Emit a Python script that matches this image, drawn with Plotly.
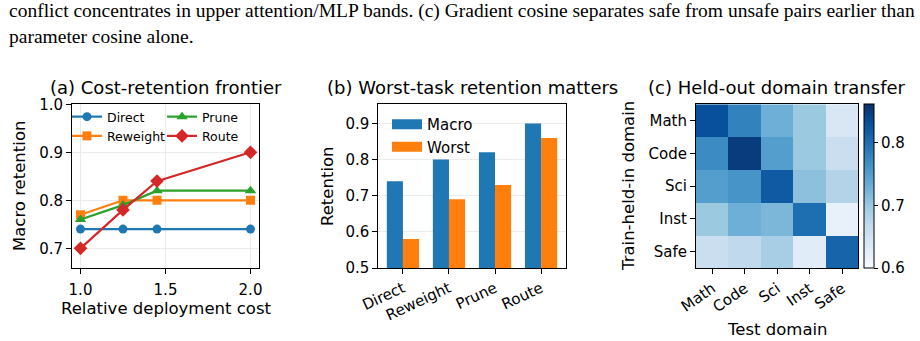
import plotly.graph_objects as go

W, H = 920, 341

# ---------------- data ----------------
cost = [1.0, 1.25, 1.45, 2.0]
direct = [0.74, 0.74, 0.74, 0.74]
reweight = [0.77, 0.80, 0.80, 0.80]
prune = [0.76, 0.79, 0.82, 0.82]
route = [0.70, 0.78, 0.84, 0.90]

methods = ["Direct", "Reweight", "Prune", "Route"]
macro = [0.74, 0.80, 0.82, 0.90]
worst = [0.58, 0.69, 0.73, 0.86]

domains = ["Math", "Code", "Sci", "Inst", "Safe"]
transfer = [
    [0.83, 0.78, 0.73, 0.70, 0.64],
    [0.77, 0.85, 0.75, 0.70, 0.66],
    [0.75, 0.76, 0.82, 0.71, 0.68],
    [0.70, 0.73, 0.72, 0.80, 0.62],
    [0.66, 0.67, 0.69, 0.63, 0.81],
]

caption1 = ("conflict concentrates in upper attention/MLP bands. (c) Gradient cosine "
            "separates safe from unsafe pairs earlier than")
caption2 = "parameter cosine alone."

# ---------------- style ----------------
BLUE, ORANGE, GREEN, RED = "#1f77b4", "#ff7f0e", "#2ca02c", "#d62728"
FONT = "DejaVu Sans"
TICK, LAB, TIT = 15, 16.5, 18
blues = [[0.0, "#f7fbff"], [0.125, "#deebf7"], [0.25, "#c6dbef"], [0.375, "#9ecae1"],
         [0.5, "#6baed6"], [0.625, "#4292c6"], [0.75, "#2171b5"], [0.875, "#08519c"],
         [1.0, "#08306b"]]


def px(x):
    return x / W


def py(y):
    return 1 - y / H


fig = go.Figure()

# (a) frontier lines
series = [("Direct", direct, BLUE, "circle", 9, "legend"),
          ("Reweight", reweight, ORANGE, "square", 9, "legend"),
          ("Prune", prune, GREEN, "triangle-up", 10, "legend2"),
          ("Route", route, RED, "diamond", 10.5, "legend2")]
for name, ys, col, sym, ms, lg in series:
    fig.add_trace(go.Scatter(x=cost, y=ys, name=name, mode="lines+markers",
                             line=dict(color=col, width=2.2),
                             marker=dict(color=col, symbol=sym, size=ms),
                             xaxis="x", yaxis="y", legend=lg))

# (b) grouped bars
fig.add_trace(go.Bar(x=methods, y=macro, name="Macro", marker=dict(color=BLUE, line=dict(width=0)),
                     xaxis="x2", yaxis="y2", showlegend=False))
fig.add_trace(go.Bar(x=methods, y=worst, name="Worst", marker=dict(color=ORANGE, line=dict(width=0)),
                     xaxis="x2", yaxis="y2", showlegend=False))
# legend patches for bars
for name, col in [("Macro", BLUE), ("Worst", ORANGE)]:
    fig.add_trace(go.Scatter(x=[None], y=[None], name=name, mode="lines",
                             line=dict(color=col, width=10),
                             xaxis="x2", yaxis="y2", legend="legend3"))

# (c) heatmap
fig.add_trace(go.Heatmap(z=transfer, x=domains, y=domains, colorscale=blues,
                         zmin=0.6, zmax=0.862, xaxis="x3", yaxis="y3",
                         colorbar=dict(x=px(863.5), xanchor="left", xpad=0, ypad=0,
                                       y=py(268), yanchor="bottom", len=(268 - 104.3) / H,
                                       lenmode="fraction", thickness=10,
                                       outlinewidth=1, outlinecolor="black",
                                       ticks="outside", ticklen=4, tickwidth=1, tickcolor="black",
                                       tickvals=[0.6, 0.7, 0.8], tickformat=".1f",
                                       tickfont=dict(size=TICK, color="black", family=FONT))))

axis_common = dict(showline=True, mirror=True, linecolor="black", linewidth=1,
                   ticks="outside", ticklen=5, tickwidth=1, tickcolor="black",
                   tickfont=dict(size=TICK, color="black", family=FONT), zeroline=False,
                   automargin=False)

ya_dom = [py(268), py(104.3)]
fig.update_layout(
    width=W, height=H, margin=dict(l=0, r=0, t=0, b=0, autoexpand=False),
    paper_bgcolor="white", plot_bgcolor="white",
    font=dict(family=FONT, color="black"),
    barmode="group", bargap=0.3, bargroupgap=0,
    xaxis=dict(domain=[px(72), px(259)], range=[0.95, 2.05], tickvals=[1.0, 1.5, 2.0],
               tickformat=".1f", showgrid=True, gridcolor="#ebebeb", gridwidth=1,
               anchor="y", ticklabelstandoff=3, **axis_common),
    yaxis=dict(domain=ya_dom, range=[0.659, 1.0], tickvals=[0.7, 0.8, 0.9, 1.0],
               tickformat=".1f", showgrid=True, gridcolor="#ebebeb", gridwidth=1,
               anchor="x", **axis_common),
    xaxis2=dict(domain=[px(378.3), px(565.7)], type="category", range=[-0.535, 3.535],
                tickangle=-25, showgrid=False, anchor="y2", **axis_common),
    yaxis2=dict(domain=ya_dom, range=[0.5, 0.953], tickvals=[0.5, 0.6, 0.7, 0.8, 0.9],
                tickformat=".1f", showgrid=True, gridcolor="#ebebeb", gridwidth=1,
                anchor="x2", **axis_common),
    xaxis3=dict(domain=[px(696), px(858.3)], type="category", range=[-0.5, 4.5],
                tickangle=-35, showgrid=False, anchor="y3", **axis_common),
    yaxis3=dict(domain=ya_dom, type="category", range=[4.5, -0.5],
                showgrid=False, anchor="x3", **axis_common),
    legend=dict(x=px(67), y=py(102), xanchor="left", yanchor="top",
                bgcolor="rgba(0,0,0,0)", borderwidth=0, tracegroupgap=0,
                font=dict(size=12.5, family=FONT, color="black"), itemwidth=30),
    legend2=dict(x=px(162), y=py(102), xanchor="left", yanchor="top",
                 bgcolor="rgba(0,0,0,0)", borderwidth=0, tracegroupgap=0,
                 font=dict(size=12.5, family=FONT, color="black"), itemwidth=30),
    legend3=dict(x=px(387), y=py(108), xanchor="left", yanchor="top",
                 bgcolor="rgba(0,0,0,0)", borderwidth=0, tracegroupgap=0,
                 font=dict(size=TICK, family=FONT, color="black"), itemwidth=30),
)


def note(text, x, y, size, angle=0, xanchor="center", family=FONT):
    fig.add_annotation(text=text, x=px(x), y=py(y), xref="paper", yref="paper",
                       showarrow=False, xanchor=xanchor, yanchor="middle",
                       textangle=angle, font=dict(size=size, family=family, color="black"))


# titles
note("(a) Cost-retention frontier", 165.5, 87, TIT)
note("(b) Worst-task retention matters", 472, 87, TIT)
note("(c) Held-out domain transfer", 777, 87, TIT)
# axis titles
note("Macro retention", 19, 186, LAB, angle=-90)
note("Relative deployment cost", 165.5, 308.5, LAB)
note("Retention", 327, 186, LAB, angle=-90)
note("Train-held-in domain", 628, 186, LAB, angle=-90)
note("Test domain", 777, 329, LAB)
# caption text
note(caption1, 7, 10.7, 19.5, xanchor="left", family="Liberation Serif")
note(caption2, 7, 36.7, 19.5, xanchor="left", family="Liberation Serif")

fig.write_html("out.html")
